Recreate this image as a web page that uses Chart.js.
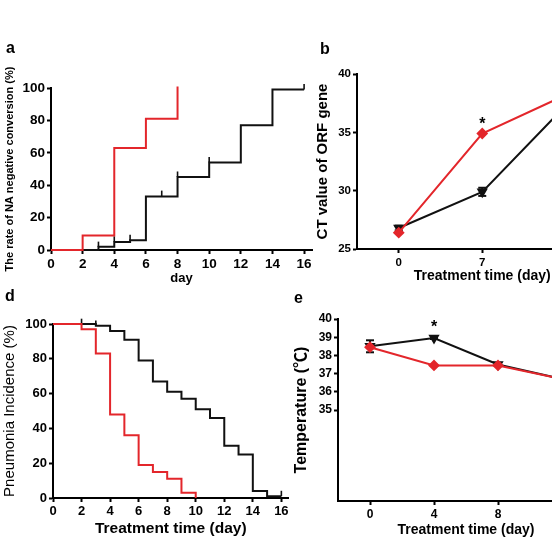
<!DOCTYPE html>
<html>
<head>
<meta charset="utf-8">
<script src="https://cdn.jsdelivr.net/npm/chart.js@4.4.1/dist/chart.umd.min.js"></script>
<style>
  html, body { margin: 0; padding: 0; background: #fff; width: 552px; height: 552px; overflow: hidden; }
  canvas { position: absolute; }
</style>
</head>
<body>
<canvas id="chartA" width="330" height="260" style="left:0px;top:30px;width:330px;height:260px"></canvas>
<canvas id="chartB" width="330" height="260" style="left:290px;top:30px;width:330px;height:260px"></canvas>
<canvas id="chartD" width="305" height="267" style="left:0px;top:285px;width:305px;height:267px"></canvas>
<canvas id="chartE" width="320" height="262" style="left:290px;top:290px;width:320px;height:262px"></canvas>
<script>
// ---- panel a: NA negative conversion (%) ----
const aRedDays = [0, 2, 4, 6, 8];
const aRedRate = [0, 9, 63, 81, 101];
const aBlackDays = [0, 3, 4, 5, 6, 8, 10, 12, 14, 16];
const aBlackRate = [0, 2, 5, 6, 33, 45, 54, 77, 99, 99];
const aCensorDays = [3, 4, 5, 7, 8, 10, 16];
const aCensorRate = [3.5, 6.8, 7.8, 35, 46.8, 55.8, 100.8];
const aXTicks = [0, 2, 4, 6, 8, 10, 12, 14, 16];
const aYTicks = [0, 20, 40, 60, 80, 100];

// ---- panel b: CT value of ORF gene ----
const bDays = [0, 7, 14];
const bRed = [26.4, 34.9, 38.2];
const bBlack = [26.8, 29.9, 37.3];
const bBlackErr = [0.2, 0.35, 0.3];
const bStars = [{ x: 7, y: 36.1 }];
const bXTicks = [0, 7, 14];
const bYTicks = [25, 30, 35, 40];

// ---- panel d: pneumonia incidence (%) ----
const dRedDays = [0, 2, 3, 4, 5, 6, 7, 8, 9, 10];
const dRedRate = [100, 97, 83, 48, 36, 19, 15, 11, 3, 0];
const dBlackDays = [0, 3, 4, 5, 6, 7, 8, 9, 10, 11, 12, 13, 14, 15, 16];
const dBlackRate = [100, 99, 96, 91, 79, 67, 61, 57, 51, 46, 30, 25, 4, 1, 1];
const dCensorDays = [2, 3, 16];
const dCensorRate = [101.5, 100.5, 2.6];
const dXTicks = [0, 2, 4, 6, 8, 10, 12, 14, 16];
const dYTicks = [0, 20, 40, 60, 80, 100];

// ---- panel e: temperature ----
const eDays = [0, 4, 8, 12];
const eRed = [38.45, 37.45, 37.45, 36.7];
const eBlack = [38.5, 38.95, 37.5, 36.7];
const eBlackErr = [0.33, 0.05, 0.05, 0.05];
const eStars = [{ x: 4, y: 39.8 }];
const eXTicks = [0, 4, 8, 12];
const eYTicks = [35, 36, 37, 38, 39, 40];

const FONT = '"Liberation Sans", Arial, "Noto Sans CJK SC", sans-serif';
const RED = '#e3262b';
const BLACK = '#111111';

Chart.defaults.font.family = FONT;
Chart.defaults.color = '#000';
Chart.defaults.animation = false;
Chart.defaults.plugins.legend.display = false;
Chart.defaults.plugins.tooltip.enabled = false;

const xy = (xs, ys) => xs.map((x, i) => ({ x: x, y: ys[i] }));
// error bars: one segment per point, split by a null gap
const errBars = (xs, ys, es) => xs.flatMap((x, i) => [
    { x: x, y: ys[i] - es[i] }, { x: x, y: ys[i] + es[i] }, { x: x, y: null }
]);

// panel letter and significance stars
const panelText = {
    id: 'panelText',
    afterDraw(chart, args, opts) {
        const ctx = chart.ctx;
        ctx.save();
        ctx.fillStyle = '#000';
        ctx.font = 'bold 16px ' + FONT;
        ctx.textAlign = 'left';
        ctx.textBaseline = 'middle';
        ctx.fillText(opts.letter, opts.lx, opts.ly);
        ctx.textAlign = 'center';
        ctx.textBaseline = 'alphabetic';
        (opts.stars || []).forEach(s => {
            const x = chart.scales.x.getPixelForValue(s.x);
            const y = chart.scales.y.getPixelForValue(s.y);
            ctx.fillText('*', x, y + 16 * 0.58);
        });
        ctx.restore();
    }
};

function axis(o) {
    return {
        type: 'linear',
        min: o.min,
        max: o.max,
        afterBuildTicks: s => { s.ticks = o.ticks.map(v => ({ value: v })); },
        afterFit: s => {
            if (o.width) s.width = o.width;
            if (o.height) s.height = o.height;
        },
        border: { display: true, color: '#000', width: 2 },
        grid: { display: true, drawOnChartArea: false, drawTicks: true, tickLength: 4, tickColor: '#000', tickWidth: 2 },
        ticks: { color: '#000', padding: o.tickPad || 2, autoSkip: false, maxRotation: 0, font: { size: o.tickSize, weight: 'bold' } },
        title: {
            display: true, text: o.title, color: '#000',
            font: { size: o.titleSize, weight: o.titleWeight },
            padding: o.titlePad
        }
    };
}

function stepLine(data, color) {
    return { data: data, stepped: 'before', borderColor: color, borderWidth: 2, pointRadius: 0, clip: false, fill: false };
}

function censor(data, color) {
    return { data: data, showLine: false, pointStyle: 'line', rotation: 90, pointRadius: 2.7,
        borderColor: color, borderWidth: 1.6, clip: false };
}

function markerLine(data, color, style, rot) {
    return { data: data, borderColor: color, backgroundColor: color, borderWidth: 2, tension: 0,
        pointStyle: style, rotation: rot, pointRadius: 4.5, clip: false };
}

function errLine(data, color) {
    return { data: data, borderColor: color, borderWidth: 2, spanGaps: false, pointStyle: 'line',
        pointRadius: 4, clip: false };
}

// a
new Chart(document.getElementById('chartA'), {
    type: 'line',
    data: { datasets: [
        stepLine(xy(aRedDays, aRedRate), RED),
        stepLine(xy(aBlackDays, aBlackRate), BLACK),
        censor(xy(aCensorDays, aCensorRate), BLACK)
    ] },
    options: {
        responsive: false,
        layout: { padding: { left: 0, top: 58, right: 18, bottom: 0 } },
        scales: {
            x: axis({ min: 0, max: 16.5, ticks: aXTicks, height: 40, tickSize: 13.5, title: 'day',
                titleSize: 13, titleWeight: 'bold', titlePad: { top: 0, bottom: 4 } }),
            y: axis({ min: 0, max: 100, ticks: aYTicks, width: 51, tickSize: 13.5,
                title: 'The rate of NA negative conversion (%)', titleSize: 11, titleWeight: 'bold',
                titlePad: { top: 3, bottom: 0 } })
        },
        plugins: { panelText: { letter: 'a', lx: 6, ly: 19 } }
    },
    plugins: [panelText]
});

// b
new Chart(document.getElementById('chartB'), {
    type: 'line',
    data: { datasets: [
        markerLine(xy(bDays, bRed), RED, 'rectRot', 0),
        markerLine(xy(bDays, bBlack), BLACK, 'triangle', 180),
        errLine(errBars(bDays, bBlack, bBlackErr), BLACK)
    ] },
    options: {
        responsive: false,
        layout: { padding: { left: 0, top: 44, right: 12.5, bottom: 0 } },
        scales: {
            x: axis({ min: -3.5, max: 17.5, ticks: bXTicks, height: 41, tickSize: 11.5, tickPad: 3,
                title: 'Treatment time (day)', titleSize: 14, titleWeight: 'bold', titlePad: { top: 0, bottom: 5.6 } }),
            y: axis({ min: 25, max: 40, ticks: bYTicks, width: 67, tickSize: 11.5, title: 'CT value of ORF gene',
                titleSize: 15, titleWeight: 'bold', titlePad: { top: 24, bottom: 0 } })
        },
        plugins: { panelText: { letter: 'b', lx: 30, ly: 20, stars: bStars } }
    },
    plugins: [panelText]
});

// d
new Chart(document.getElementById('chartD'), {
    type: 'line',
    data: { datasets: [
        stepLine(xy(dRedDays, dRedRate), RED),
        stepLine(xy(dBlackDays, dBlackRate), BLACK),
        censor(xy(dCensorDays, dCensorRate), BLACK)
    ] },
    options: {
        responsive: false,
        layout: { padding: { left: 0, top: 39, right: 16.5, bottom: 0 } },
        scales: {
            x: axis({ min: 0, max: 16.5, ticks: dXTicks, height: 54, tickSize: 13, title: 'Treatment time (day)',
                titleSize: 15.5, titleWeight: 'bold', titlePad: { top: 0, bottom: 13.5 } }),
            y: axis({ min: 0, max: 100, ticks: dYTicks, width: 53, tickSize: 13, title: 'Pneumonia Incidence (%)',
                titleSize: 15, titleWeight: 'normal', titlePad: { top: 1, bottom: 0 } })
        },
        plugins: { panelText: { letter: 'd', lx: 5, ly: 12 } }
    },
    plugins: [panelText]
});

// e
new Chart(document.getElementById('chartE'), {
    type: 'line',
    data: { datasets: [
        markerLine(xy(eDays, eRed), RED, 'rectRot', 0),
        markerLine(xy(eDays, eBlack), BLACK, 'triangle', 180),
        errLine(errBars(eDays, eBlack, eBlackErr), BLACK)
    ] },
    options: {
        responsive: false,
        layout: { padding: { left: 0, top: 29, right: 16, bottom: 0 } },
        scales: {
            x: axis({ min: -2, max: 14, ticks: eXTicks, height: 51, tickSize: 12, title: 'Treatment time (day)',
                titleSize: 14, titleWeight: 'bold', titlePad: { top: 0, bottom: 13 } }),
            y: axis({ min: 30, max: 40, ticks: eYTicks, width: 48, tickSize: 12, title: 'Temperature (℃)',
                titleSize: 16, titleWeight: 'bold', titlePad: { top: 2.4, bottom: 0 } })
        },
        plugins: { panelText: { letter: 'e', lx: 4, ly: 9, stars: eStars } }
    },
    plugins: [panelText]
});
</script>
</body>
</html>
